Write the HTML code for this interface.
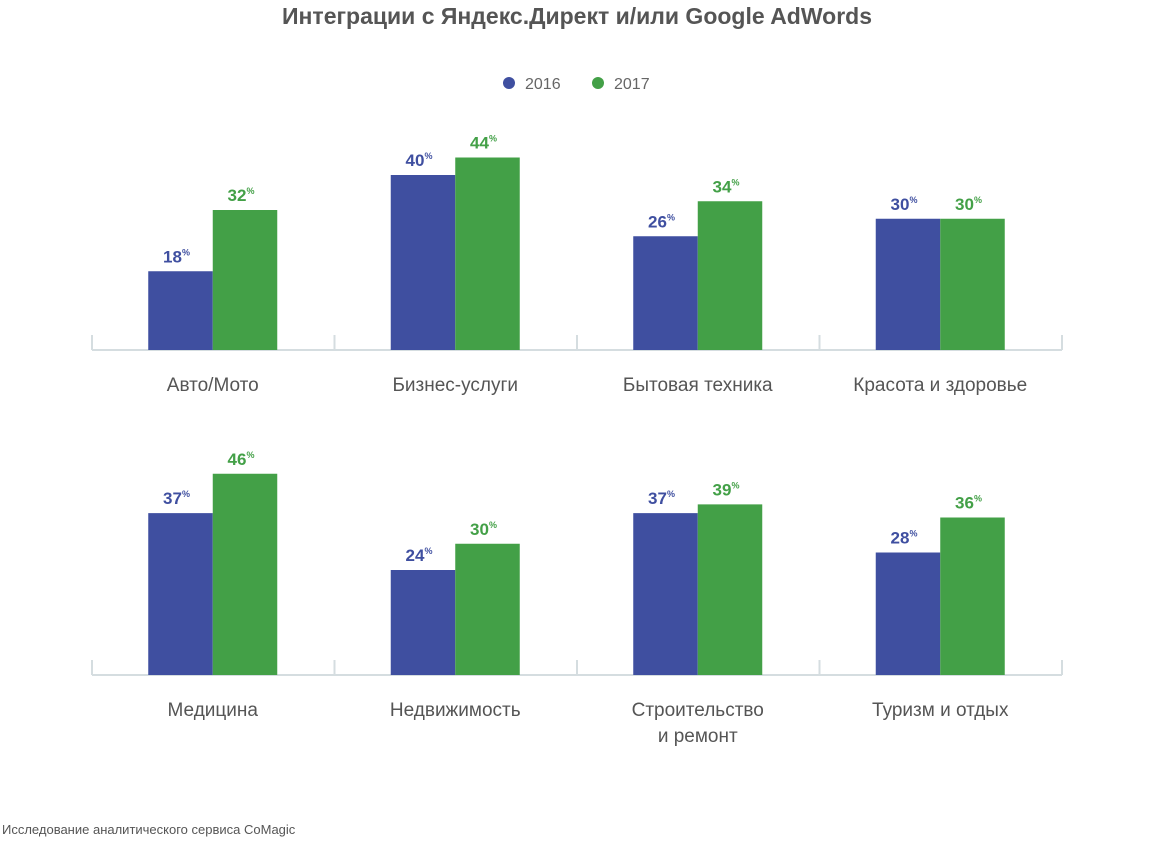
<!DOCTYPE html>
<html><head><meta charset="utf-8"><style>
body{margin:0;background:#fff;width:1153px;height:844px;overflow:hidden;font-family:"Liberation Sans","Noto Sans CJK SC",sans-serif;}
</style></head><body>
<svg id="chart" width="1153" height="844" xmlns="http://www.w3.org/2000/svg">
<text x="577" y="24" text-anchor="middle" font-size="23" font-weight="bold" fill="#555">Интеграции с Яндекс.Директ и/или Google AdWords</text>
<g>
<circle cx="509" cy="83" r="6" fill="#3f4fa0"/>
<text x="525" y="89" font-size="16" fill="#666">2016</text>
<circle cx="598" cy="83" r="6" fill="#43a047"/>
<text x="614" y="89" font-size="16" fill="#666">2017</text>
</g>
<text x="2" y="834" font-size="13" fill="#555">Исследование аналитического сервиса CoMagic</text>
</svg>
<script>
const categories = ["Авто/Мото","Бизнес-услуги","Бытовая техника","Красота и здоровье","Медицина","Недвижимость","Строительство|и ремонт","Туризм и отдых"];
const values2016 = [18,40,26,30,37,24,37,28];
const values2017 = [32,44,34,30,46,30,39,36];
const svg = document.getElementById('chart');
const NS = 'http://www.w3.org/2000/svg';
const baselines = [350, 675];
const x0 = 92, groupW = 242.5, barW = 64.5, k = 4.375;
function xCenter(i){ return x0 + groupW*(i%4) + groupW/2 - 8; }
function yVal(v, row){ return baselines[row] - v*k; }
function mk(tag, attrs){ const e=document.createElementNS(NS,tag); for(const a in attrs) e.setAttribute(a, attrs[a]); svg.appendChild(e); return e; }
for (let r=0;r<2;r++){
  const b=baselines[r];
  const ax = mk('line',{x1:x0,x2:x0+groupW*4,y1:b,y2:b,stroke:'#d5dde0','stroke-width':2});
  
  
  for (let t=0;t<=4;t++){
    const tk = mk('line',{x1:x0+groupW*t,x2:x0+groupW*t,y1:b-15,y2:b,stroke:'#d5dde0','stroke-width':2});
    
    
  }
}
categories.forEach((c,i)=>{
  const row = i<4?0:1, b=baselines[row], cx=xCenter(i)+7.5;
  const series=[[values2016[i],'#3f4fa0',cx-barW,'2016'],[values2017[i],'#43a047',cx,'2017']];
  series.forEach(([v,col,x,yr])=>{
    const y=yVal(v,row);
    const rect = mk('rect',{x:x,y:y,width:barW,height:b-y,fill:col});
    
    
    const t = mk('text',{x:x+barW/2-4,y:y-9,'text-anchor':'middle','font-size':17,'font-weight':'bold',fill:col});
    t.innerHTML = v + '<tspan font-size="9" dy="-7">%</tspan>';
    
    
  });
  const lines=c.split('|');
  lines.forEach((ln,j)=>{
    const t = mk('text',{x:cx,y:b+41+j*26,'text-anchor':'middle','font-size':19,fill:'#555'});
    t.textContent=ln;
    
    
  });
});
</script>
</body></html>
